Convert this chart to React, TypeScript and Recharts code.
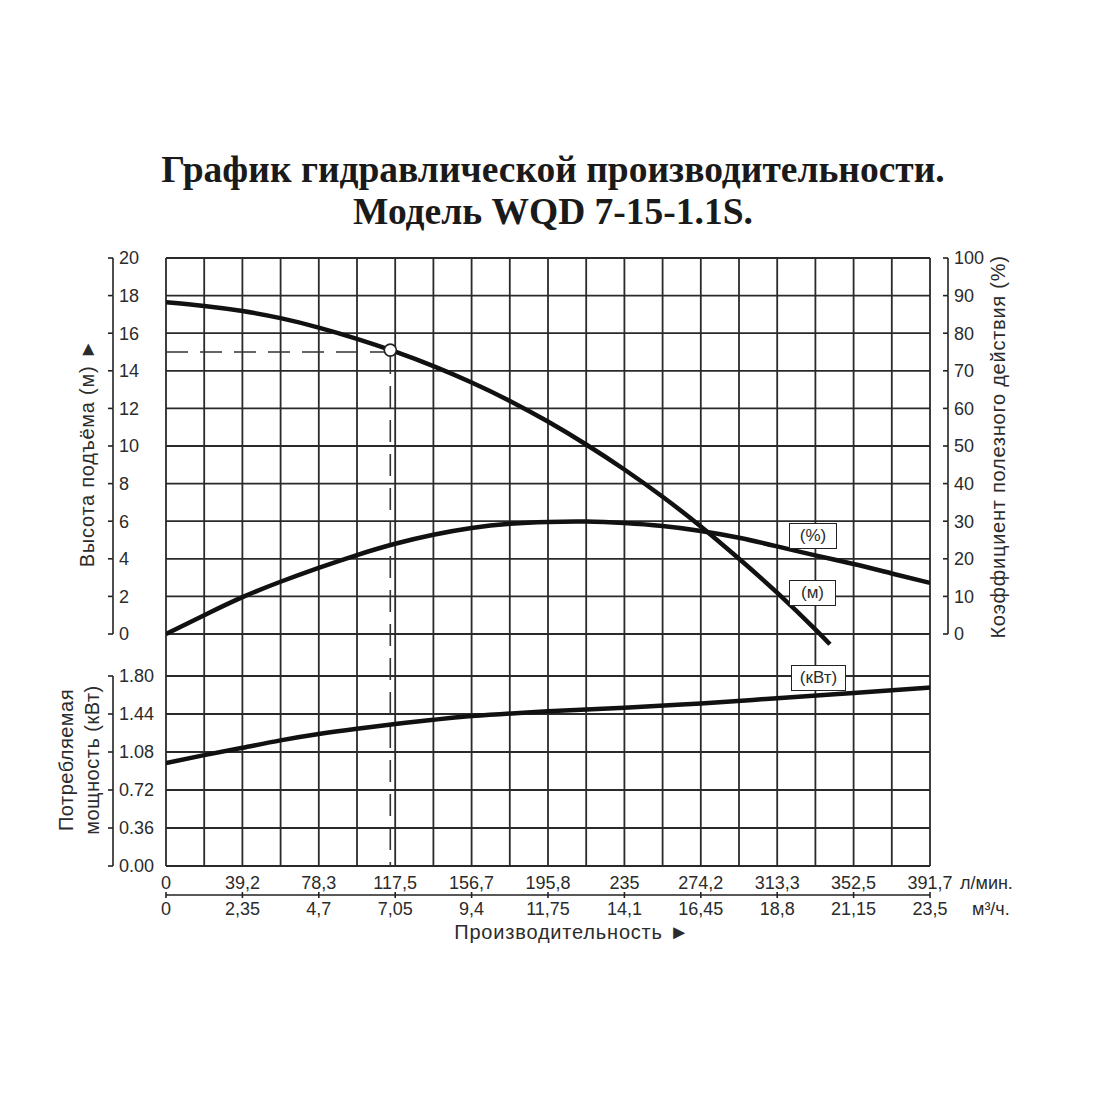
import React from 'react';
import {
  ComposedChart,
  Line,
  XAxis,
  YAxis,
  CartesianGrid,
  ReferenceLine,
  ReferenceDot,
} from 'recharts';

// Flow (l/min) along the bottom axis
const Q_MAX = 391.7;
const LPM_LABELS = ['0', '39,2', '78,3', '117,5', '156,7', '195,8', '235', '274,2', '313,3', '352,5', '391,7'];
const M3H_LABELS = ['0', '2,35', '4,7', '7,05', '9,4', '11,75', '14,1', '16,45', '18,8', '21,15', '23,5'];

const HEAD_TICKS = [0, 2, 4, 6, 8, 10, 12, 14, 16, 18, 20];
const EFF_TICKS = [0, 10, 20, 30, 40, 50, 60, 70, 80, 90, 100];
const POWER_TICKS = [0, 0.36, 0.72, 1.08, 1.44, 1.8];

// Head curve (m)
const HEAD_Q = [0, 19.6, 39.2, 58.7, 78.3, 97.9, 117.5, 137.1, 156.7, 176.3, 195.8, 215.4, 235, 254.6, 274.2, 293.8, 313.3, 332.9, 340.4];
const HEAD_M = [17.65, 17.45, 17.18, 16.8, 16.3, 15.7, 15.02, 14.25, 13.38, 12.4, 11.3, 10.08, 8.75, 7.3, 5.72, 4.0, 2.2, 0.25, -0.55];

// Efficiency curve (%)
const EFF_Q = [0, 19.6, 39.2, 58.7, 78.3, 97.9, 117.5, 137.1, 156.7, 176.3, 195.8, 215.4, 235, 254.6, 274.2, 293.8, 313.3, 332.9, 352.5, 372.1, 391.7];
const EFF_PCT = [0, 5.0, 9.8, 13.9, 17.6, 21.0, 24.0, 26.4, 28.2, 29.3, 29.8, 29.9, 29.5, 28.7, 27.4, 25.6, 23.3, 20.9, 18.6, 16.1, 13.6];

// Power curve (kW)
const POWER_Q = [0, 19.6, 39.2, 58.7, 78.3, 97.9, 117.5, 137.1, 156.7, 195.8, 235, 274.2, 313.3, 352.5, 391.7];
const POWER_KW = [0.975, 1.05, 1.12, 1.19, 1.25, 1.3, 1.345, 1.385, 1.42, 1.465, 1.5, 1.54, 1.59, 1.64, 1.69];

// duty point
const DUTY_Q = 115;
const DUTY_H = 15;

const headData = HEAD_Q.map((q, i) => ({ q, h: HEAD_M[i] }));
const effData = EFF_Q.map((q, i) => ({ q, e: EFF_PCT[i] }));
const powerData = POWER_Q.map((q, i) => ({ q, p: POWER_KW[i] }));

// layout
const PLOT = { left: 166, right: 930, top: 258, bottom: 866 };
const HEAD_ZERO_Y = 634; // where head 0 / efficiency 0 sit
const POWER_TOP_Y = 676; // where 1.80 kW sits
const HEAD_MIN = (-20 * (PLOT.bottom - HEAD_ZERO_Y)) / (HEAD_ZERO_Y - PLOT.top);
const EFF_MIN = (-100 * (PLOT.bottom - HEAD_ZERO_Y)) / (HEAD_ZERO_Y - PLOT.top);
const POWER_MAX = (1.8 * (PLOT.bottom - PLOT.top)) / (PLOT.bottom - POWER_TOP_Y);
const HEAD_STEP_PX = (HEAD_ZERO_Y - PLOT.top) / 10;
const POWER_STEP_PX = (PLOT.bottom - POWER_TOP_Y) / 5;
const COL_W = (PLOT.right - PLOT.left) / 20;
const X_GRID = Array.from({ length: 21 }, (_, i) => (i * Q_MAX) / 20);

const L_BRACKET = 113;
const R_BRACKET = 948;
const ROW1_Y = 883;
const MID_Y = 895;
const ROW2_Y = 909;

const INK = '#222';
const TEXT = '#2b2b2b';
const FONT = '"Liberation Sans", Arial, sans-serif';

const makeLeftTick = (step: number, fmt: (v: number) => string) => (props: any) => {
  const { y, payload } = props;
  const v = payload.value;
  return (
    <g>
      <line x1={L_BRACKET - 5} x2={L_BRACKET} y1={y} y2={y} stroke={INK} strokeWidth={1.6} />
      {v > 0 && <line x1={L_BRACKET} x2={L_BRACKET} y1={y} y2={y + step} stroke={INK} strokeWidth={1.6} />}
      <text x={L_BRACKET + 6} y={y} dy="0.36em" textAnchor="start" fontSize={18} fontFamily={FONT} fill={TEXT}>
        {fmt(v)}
      </text>
    </g>
  );
};

const HeadTick = makeLeftTick(HEAD_STEP_PX, (v) => String(v));
const PowerTick = makeLeftTick(POWER_STEP_PX, (v) => v.toFixed(2));

const EffTick = (props: any) => {
  const { y, payload } = props;
  const v = payload.value;
  return (
    <g>
      <line x1={R_BRACKET - 5} x2={R_BRACKET} y1={y} y2={y} stroke={INK} strokeWidth={1.6} />
      {v > 0 && <line x1={R_BRACKET} x2={R_BRACKET} y1={y} y2={y + HEAD_STEP_PX} stroke={INK} strokeWidth={1.6} />}
      <text x={R_BRACKET + 6} y={y} dy="0.36em" textAnchor="start" fontSize={18} fontFamily={FONT} fill={TEXT}>
        {v}
      </text>
    </g>
  );
};

const XTick = (props: any) => {
  const { x, index } = props;
  if (index % 2 === 1) return <g />;
  const k = index / 2;
  const txt = { fontSize: 18, fontFamily: FONT, fill: TEXT };
  return (
    <g>
      <text x={x} y={ROW1_Y} dy="0.36em" textAnchor="middle" {...txt}>
        {LPM_LABELS[k]}
      </text>
      <line x1={x} x2={x} y1={MID_Y - 3} y2={MID_Y + 3} stroke={INK} strokeWidth={1.6} />
      {k < 10 && <line x1={x} x2={x + 2 * COL_W} y1={MID_Y} y2={MID_Y} stroke={INK} strokeWidth={1.6} />}
      <text x={x} y={ROW2_Y} dy="0.36em" textAnchor="middle" {...txt}>
        {M3H_LABELS[k]}
      </text>
      {k === 10 && (
        <>
          <text x={x + 30} y={ROW1_Y} dy="0.36em" textAnchor="start" {...txt}>
            л/мин.
          </text>
          <text x={x + 42} y={ROW2_Y} dy="0.36em" textAnchor="start" {...txt}>
            м³/ч.
          </text>
        </>
      )}
    </g>
  );
};

const rotated = (cx: number, cy: number): React.CSSProperties => ({
  position: 'absolute',
  left: cx,
  top: cy,
  transform: 'translate(-50%, -50%) rotate(-90deg)',
  whiteSpace: 'nowrap',
  fontFamily: FONT,
  fontSize: 20,
  letterSpacing: 0.75,
  color: TEXT,
  textAlign: 'center',
});

const boxStyle = (left: number, top: number, w: number): React.CSSProperties => ({
  position: 'absolute',
  left,
  top,
  width: w,
  height: 26,
  boxSizing: 'border-box',
  border: `1.6px solid ${INK}`,
  background: '#fff',
  fontFamily: FONT,
  fontSize: 17,
  lineHeight: '23px',
  textAlign: 'center',
  color: TEXT,
});

const App: React.FC = () => {
  return (
    <div style={{ position: 'absolute', left: 0, top: 0, width: 1100, height: 1100, background: '#fff' }}>
      <ComposedChart
        width={1100}
        height={1100}
        margin={{ top: PLOT.top, right: 70, bottom: 1100 - PLOT.bottom - 60, left: 66 }}
      >
        <CartesianGrid xAxisId="q" yAxisId="head" stroke="#2a2a2a" strokeWidth={1.8} />
        <CartesianGrid xAxisId="q" yAxisId="power" vertical={false} stroke="#2a2a2a" strokeWidth={1.8} />
        <XAxis
          xAxisId="q"
          type="number"
          dataKey="q"
          domain={[0, Q_MAX]}
          ticks={X_GRID}
          interval={0}
          tick={<XTick />}
          axisLine={false}
          tickLine={false}
          height={60}
          allowDataOverflow
        />
        <YAxis
          yAxisId="head"
          orientation="left"
          type="number"
          width={99}
          domain={[HEAD_MIN, 20]}
          ticks={HEAD_TICKS}
          interval={0}
          tick={<HeadTick />}
          axisLine={false}
          tickLine={false}
          allowDataOverflow
        />
        <YAxis
          yAxisId="power"
          orientation="left"
          type="number"
          width={1}
          domain={[0, POWER_MAX]}
          ticks={POWER_TICKS}
          interval={0}
          tick={<PowerTick />}
          axisLine={false}
          tickLine={false}
          allowDataOverflow
        />
        <YAxis
          yAxisId="eff"
          orientation="right"
          type="number"
          width={100}
          domain={[EFF_MIN, 100]}
          ticks={EFF_TICKS}
          interval={0}
          tick={<EffTick />}
          axisLine={false}
          tickLine={false}
          allowDataOverflow
        />
        <ReferenceLine
          xAxisId="q"
          yAxisId="head"
          segment={[{ x: 0, y: DUTY_H }, { x: DUTY_Q, y: DUTY_H }]}
          stroke="#333"
          strokeWidth={1.6}
          strokeDasharray="22 12"
        />
        <ReferenceLine
          xAxisId="q"
          yAxisId="head"
          segment={[{ x: DUTY_Q, y: DUTY_H }, { x: DUTY_Q, y: HEAD_MIN }]}
          stroke="#333"
          strokeWidth={1.6}
          strokeDasharray="22 12"
        />
        <Line
          xAxisId="q"
          yAxisId="head"
          data={headData}
          dataKey="h"
          type="natural"
          stroke="#111"
          strokeWidth={4.5}
          dot={false}
          isAnimationActive={false}
        />
        <Line
          xAxisId="q"
          yAxisId="eff"
          data={effData}
          dataKey="e"
          type="natural"
          stroke="#111"
          strokeWidth={4.5}
          dot={false}
          isAnimationActive={false}
        />
        <Line
          xAxisId="q"
          yAxisId="power"
          data={powerData}
          dataKey="p"
          type="natural"
          stroke="#111"
          strokeWidth={4.5}
          dot={false}
          isAnimationActive={false}
        />
        <ReferenceDot
          xAxisId="q"
          yAxisId="head"
          x={DUTY_Q}
          y={DUTY_H + 0.1}
          r={6}
          fill="#fff"
          stroke="#222"
          strokeWidth={1.6}
        />
      </ComposedChart>

      <div
        style={{
          position: 'absolute',
          left: 0,
          top: 149,
          width: 1106,
          textAlign: 'center',
          fontFamily: '"Liberation Serif", "Times New Roman", serif',
          fontWeight: 'bold',
          fontSize: 37.5,
          lineHeight: '42px',
          color: '#1a1a1a',
        }}
      >
        <div>График гидравлической производительности.</div>
        <div>Модель WQD 7-15-1.1S.</div>
      </div>

      <div style={rotated(87, 453)}>Высота подъёма (м) ►</div>
      <div style={rotated(998, 447)}>Коэффициент полезного действия (%)</div>
      <div style={{ ...rotated(79, 760), lineHeight: '26px', letterSpacing: 0.5 }}>
        Потребляемая
        <br />
        мощность (кВт)
      </div>
      <div
        style={{
          position: 'absolute',
          left: 572,
          top: 932,
          transform: 'translate(-50%, -50%)',
          whiteSpace: 'nowrap',
          fontFamily: FONT,
          fontSize: 20,
          letterSpacing: 0.8,
          color: TEXT,
        }}
      >
        Производительность ►
      </div>

      <div style={boxStyle(789, 523, 48)}>(%)</div>
      <div style={boxStyle(789, 580, 47)}>(м)</div>
      <div style={boxStyle(791, 665, 55)}>(кВт)</div>
    </div>
  );
};

export default App;
